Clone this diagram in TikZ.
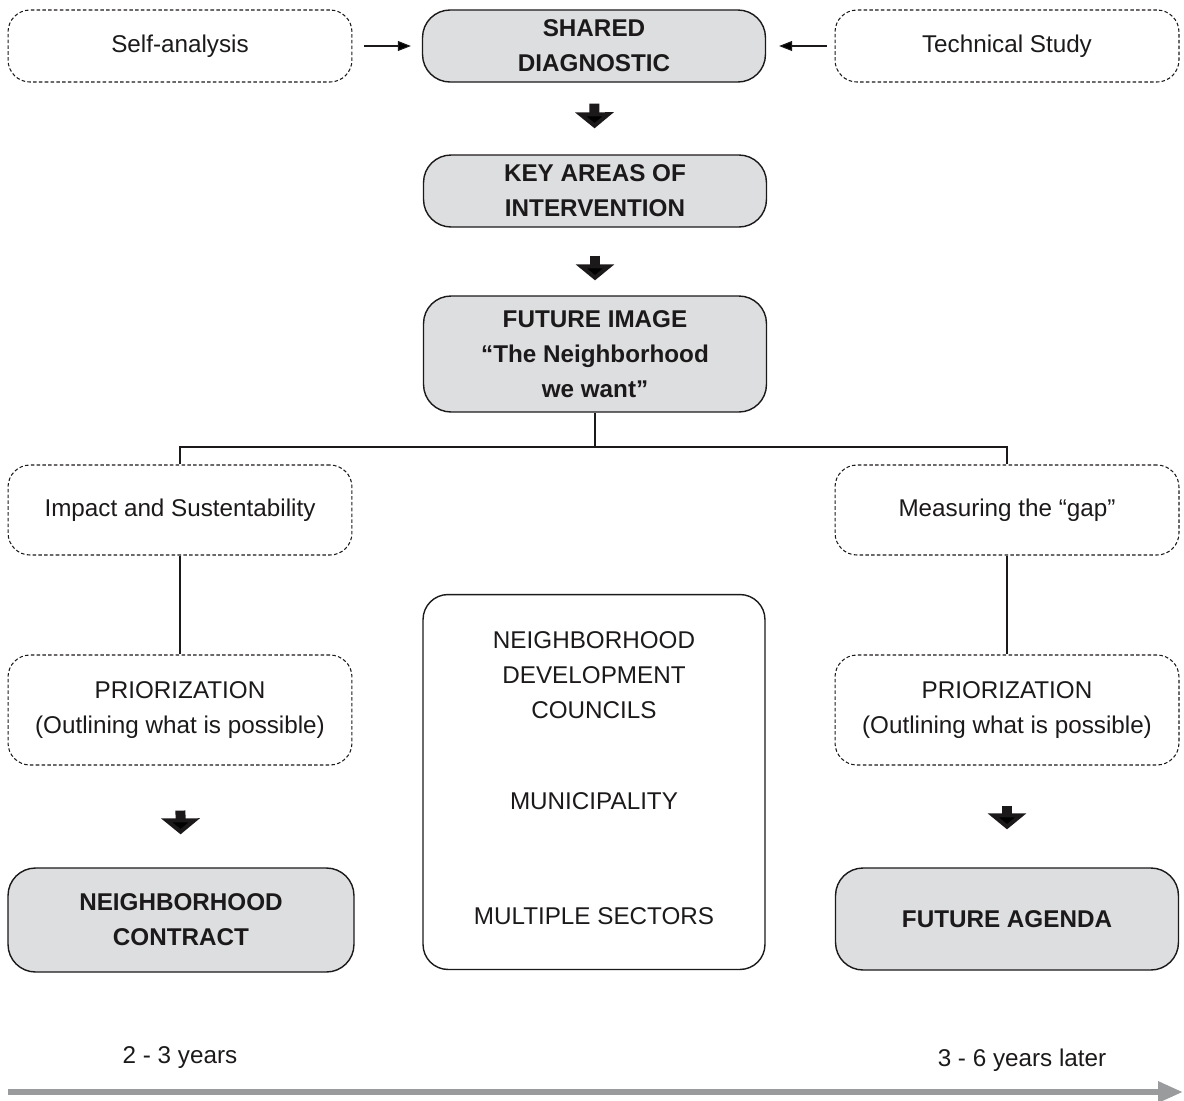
\documentclass[tikz,border=0pt]{standalone}
\usepackage{fontspec}
\setmainfont{Liberation Sans}
\usetikzlibrary{arrows.meta}
\definecolor{boxgray}{RGB}{221,222,224}
\definecolor{inkcol}{RGB}{28,25,26}
\definecolor{timegray}{RGB}{154,155,157}
\tikzset{
	txt/.style={font=\fontsize{13.8pt}{20pt}\selectfont, text=inkcol, align=center},
	softbox/.style={txt, draw=inkcol, line width=0.6pt, dash pattern=on 2pt off 1.3pt, rounded corners=0.44cm, minimum width=6.88cm},
	keybox/.style={txt, font=\fontsize{13.8pt}{20pt}\selectfont\bfseries, draw=inkcol, line width=0.8pt, fill=boxgray, rounded corners=0.55cm, minimum width=6.86cm},
	fatarrow/.style={draw=inkcol, line width=0.2cm, -{Triangle[width=0.76cm,length=0.32cm]}},
	thinarrow/.style={draw=inkcol, line width=0.6pt, -{Triangle[width=0.2cm,length=0.26cm]}},
}
\begin{document}
\begin{tikzpicture}[x=0.02cm,y=-0.02cm]
			\useasboundingbox (0,0) rectangle (1184,1100);
			% top row
			\node[softbox, minimum height=1.44cm] (self) at (180,46) {Self-analysis};
			\node[keybox, minimum height=1.44cm] (shared) at (594,46) {SHARED\\DIAGNOSTIC};
			\node[softbox, minimum height=1.44cm] (tech) at (1007,46) {Technical Study};
			\node[keybox, minimum height=1.44cm] (key) at (595,191) {KEY AREAS OF\\INTERVENTION};
			\node[keybox, minimum height=2.32cm] (future) at (595,354) {FUTURE IMAGE\\``The Neighborhood\\we want''};
			% branches
			\node[softbox, minimum height=1.8cm] (impact) at (180,510) {Impact and Sustentability};
			\node[softbox, minimum height=1.8cm] (measure) at (1007,510) {Measuring the ``gap''};
			\node[softbox, minimum height=2.2cm] (prioL) at (180,710) {PRIORIZATION\\(Outlining what is possible)};
			\node[softbox, minimum height=2.2cm] (prioR) at (1007,710) {PRIORIZATION\\(Outlining what is possible)};
			\node[txt, draw=inkcol, line width=0.8pt, rounded corners=0.5cm, minimum width=6.84cm, minimum height=7.5cm] (actors) at (594,782)
				{NEIGHBORHOOD\\DEVELOPMENT\\COUNCILS\\[1.1cm]MUNICIPALITY\\[1.6cm]MULTIPLE SECTORS\\[-0.54cm]\mbox{}};
			\node[keybox, minimum height=2.08cm, minimum width=6.92cm] (contract) at (181,920) {NEIGHBORHOOD\\CONTRACT};
			\node[keybox, minimum height=2.04cm] (agenda) at (1007,919) {FUTURE AGENDA};
			% time line
			\node[txt] (short) at (180,1058) {2 - 3 years};
			\node[txt] (long) at (1022,1060) {3 - 6 years later};
			\coordinate (tstart) at (8,1092);
			\coordinate (tend) at (1183,1092);
			\coordinate (split) at (595,447);
			\path[thinarrow]
			(self) edge [shorten <=0.24cm, shorten >=0.22cm] (shared)
			(tech) edge [shorten <=0.16cm, shorten >=0.26cm] (shared);
			\path[fatarrow]
			(shared) edge [shorten <=0.42cm, shorten >=0.52cm] (key)
			(key) edge [shorten <=0.56cm, shorten >=0.3cm] (future)
			(prioL) edge [shorten <=0.9cm, shorten >=0.66cm] (contract)
			(prioR) edge [shorten <=0.8cm, shorten >=0.76cm] (agenda);
			\draw[inkcol, line width=0.6pt] (future.south) -- (split) -| (impact.north);
			\draw[inkcol, line width=0.6pt] (split) -| (measure.north);
			\draw[inkcol, line width=0.6pt] (impact) -- (prioL);
			\draw[inkcol, line width=0.6pt] (measure) -- (prioR);
			\draw[timegray, line width=0.12cm, -{Triangle[width=0.4cm,length=0.5cm]}] (tstart) -- (tend);
		\end{tikzpicture}
\end{document}
